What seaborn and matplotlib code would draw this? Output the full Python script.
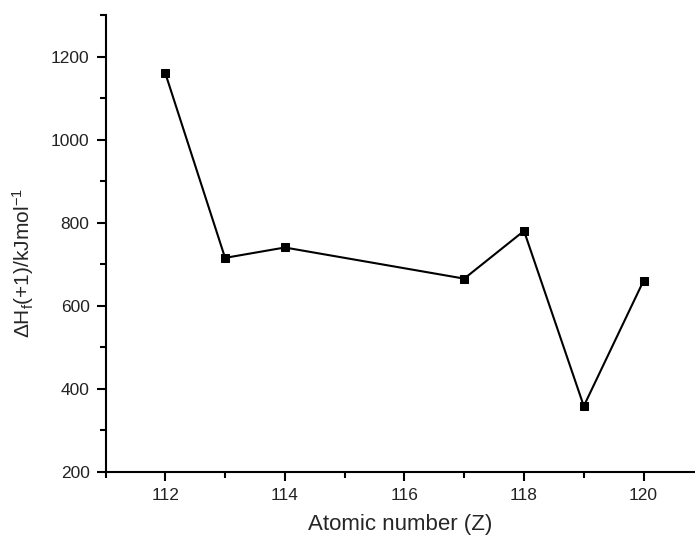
import pandas as pd
import numpy as np
import matplotlib.pyplot as plt
import seaborn as sns
from matplotlib.ticker import MultipleLocator

z = [112, 113, 114, 117, 118, 119, 120]
dh = [1160, 715, 740, 665, 780, 358, 660]

df = pd.DataFrame({'Z': z, 'dH': dh})

sns.set_style('ticks')
plt.rcParams['font.family'] = ['Liberation Sans', 'DejaVu Sans']
plt.rcParams['mathtext.fontset'] = 'custom'
plt.rcParams['mathtext.rm'] = 'Liberation Sans'
plt.rcParams['mathtext.it'] = 'Liberation Sans:italic'

fig = plt.figure(figsize=(6.95, 5.43), dpi=100)
ax = fig.add_axes([0.1518, 0.1313, 0.8482, 0.8411])

sns.lineplot(data=df, x='Z', y='dH', ax=ax, color='black', linewidth=1.5,
             marker='s', markersize=6, markeredgecolor='black', markerfacecolor='black')

ax.set_xlim(111, 120.86)
ax.set_ylim(200, 1300)
ax.set_xticks(range(112, 121, 2))
ax.set_yticks(range(200, 1201, 200))
ax.xaxis.set_minor_locator(MultipleLocator(1))
ax.yaxis.set_minor_locator(MultipleLocator(100))

sns.despine(ax=ax)
for s in ['left', 'bottom']:
    ax.spines[s].set_linewidth(1.5)
    ax.spines[s].set_color('black')

ax.tick_params(which='major', direction='out', length=6.5, width=1.5, colors='black',
               labelsize=12.5, labelcolor='#222222', pad=5)
ax.tick_params(which='minor', direction='out', length=4, width=1.5, colors='black')

ax.set_xlabel('Atomic number (Z)', fontsize=16, labelpad=8)
ax.set_ylabel(r'$\Delta$H$_\mathrm{f}$(+1)/kJmol$^{-1}$', fontsize=15)
ax.yaxis.set_label_coords(-0.118, 0.457)

plt.savefig('out.png', dpi=100)
